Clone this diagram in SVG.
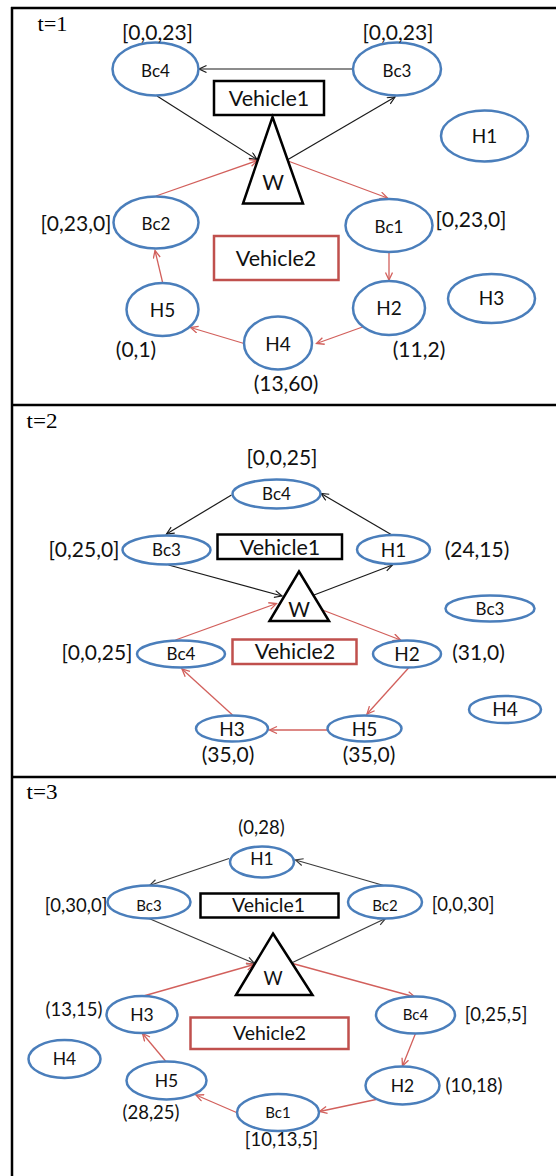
<svg xmlns="http://www.w3.org/2000/svg" width="556" height="1176" viewBox="0 0 556 1176">
<style>
.frame{stroke:#000;stroke-width:2.5;fill:none}
.node{fill:#fff;stroke:#4a7ebb;stroke-width:2.5}
.v1{fill:#fff;stroke:#000;stroke-width:2.5}
.v2{fill:#fff;stroke:#c0504d;stroke-width:2.5}
.tri{fill:#fff;stroke:#000;stroke-width:2.5;stroke-linejoin:miter}
.t{font-family:Lato,"Liberation Sans",sans-serif;fill:#111;text-anchor:middle}
.tt{font-family:"Liberation Serif",serif;fill:#000;font-size:21px}
.bk{stroke:#1a1a1a;stroke-width:1.2;fill:none;marker-end:url(#ab)}
.gy{stroke:#3a3a3a;stroke-width:1.2;fill:none;marker-end:url(#ag)}
.rd{stroke:#d2605c;stroke-width:1.3;fill:none;marker-end:url(#ar)}
.s1{font-size:21px}.h1{font-size:19px}.b1{font-size:17px}.vv1{font-size:21.5px}
.s3{font-size:18.5px}.h3{font-size:17.5px}.b3{font-size:15px}.vv3{font-size:19.5px}
</style>
<defs>
<marker id="ab" markerUnits="userSpaceOnUse" markerWidth="12" markerHeight="12" refX="8" refY="4" orient="auto"><path d="M0.5,0.5 L8,4 L0.5,7.5" fill="none" stroke="#1a1a1a" stroke-width="1.2"/></marker>
<marker id="ag" markerUnits="userSpaceOnUse" markerWidth="12" markerHeight="12" refX="8" refY="4" orient="auto"><path d="M0.5,0.5 L8,4 L0.5,7.5" fill="none" stroke="#3a3a3a" stroke-width="1.2"/></marker>
<marker id="ar" markerUnits="userSpaceOnUse" markerWidth="12" markerHeight="12" refX="8" refY="4" orient="auto"><path d="M0.5,0.5 L8,4 L0.5,7.5" fill="none" stroke="#d2605c" stroke-width="1.3"/></marker>
</defs>
<rect width="556" height="1176" fill="#fff"/>
<g id="frame">
<line class="frame" x1="12" y1="7" x2="12" y2="1176"/>
<line class="frame" x1="11" y1="8" x2="556" y2="8"/>
<line class="frame" x1="11" y1="405" x2="556" y2="405"/>
<line class="frame" x1="11" y1="777" x2="556" y2="777"/>
</g>
<g id="titles">
<text class="tt" x="37.5" y="31" textLength="30" lengthAdjust="spacingAndGlyphs">t=1</text>
<text class="tt" x="26.5" y="428" textLength="31" lengthAdjust="spacingAndGlyphs">t=2</text>
<text class="tt" x="26.5" y="799" textLength="31" lengthAdjust="spacingAndGlyphs">t=3</text>
</g>
<g id="connectors">
<line class="bk" x1="352" y1="69" x2="199" y2="69"/>
<line class="bk" x1="157" y1="96" x2="257" y2="159.5"/>
<line class="bk" x1="288" y1="159.5" x2="395" y2="97"/>
<line class="rd" x1="156" y1="196" x2="257.5" y2="160.5"/>
<line class="rd" x1="288" y1="161" x2="387.5" y2="198"/>
<line class="rd" x1="389" y1="252" x2="389" y2="280"/>
<line class="rd" x1="362.5" y1="327" x2="316.5" y2="343.5"/>
<line class="rd" x1="244" y1="343.5" x2="190.5" y2="327.5"/>
<line class="rd" x1="162.5" y1="282" x2="155" y2="250.5"/>
<line class="bk" x1="231.5" y1="495" x2="166.5" y2="534"/>
<line class="bk" x1="392" y1="535" x2="321" y2="493.5"/>
<line class="bk" x1="168.5" y1="565" x2="282" y2="596"/>
<line class="bk" x1="314" y1="595" x2="392.5" y2="565"/>
<line class="rd" x1="175.5" y1="640" x2="276.5" y2="603.5"/>
<line class="rd" x1="322.5" y1="610" x2="400.5" y2="640"/>
<line class="rd" x1="408.5" y1="668" x2="367" y2="714"/>
<line class="rd" x1="327" y1="730" x2="269.5" y2="730"/>
<line class="rd" x1="232.5" y1="715" x2="182" y2="669"/>
<line class="gy" x1="229" y1="858.5" x2="149.5" y2="885.5"/>
<line class="gy" x1="385.5" y1="886" x2="295.5" y2="860"/>
<line class="gy" x1="149" y1="918.5" x2="254.5" y2="963.5"/>
<line class="gy" x1="292.5" y1="962.5" x2="385.5" y2="918.5"/>
<line class="rd" x1="143.5" y1="996" x2="254" y2="964.5"/>
<line class="rd" x1="292.5" y1="963.5" x2="415" y2="997"/>
<line class="rd" x1="415.5" y1="1033.5" x2="402.5" y2="1066"/>
<line class="rd" x1="376" y1="1099.5" x2="319.5" y2="1111.5"/>
<line class="rd" x1="236.5" y1="1112.5" x2="196" y2="1095"/>
<line class="rd" x1="165.5" y1="1061" x2="142.5" y2="1033.5"/>
</g>
<g id="p1-Bc4"><ellipse class="node" cx="155.5" cy="69" rx="43" ry="26.5"/><text class="t b1" x="155.5" y="76.5">Bc4</text></g>
<g id="p1-Bc3"><ellipse class="node" cx="397" cy="69" rx="44" ry="26.5"/><text class="t b1" x="397" y="76.5">Bc3</text></g>
<g id="p1-H1"><ellipse class="node" cx="484.5" cy="136" rx="43.5" ry="25.5"/><text class="t h1" x="484.5" y="143">H1</text></g>
<g id="p1-Vehicle1"><rect class="v1" x="214" y="81" width="110" height="34"/><text class="t vv1" x="269" y="105.5">Vehicle1</text></g>
<g id="p1-W"><polygon class="tri" points="272.5,117 303,203.5 243,203.5"/><text class="t s1" x="273" y="190">W</text></g>
<g id="p1-Bc2"><ellipse class="node" cx="156" cy="222.5" rx="42.5" ry="26"/><text class="t b1" x="156" y="230">Bc2</text></g>
<g id="p1-Bc1"><ellipse class="node" cx="389" cy="225.5" rx="43.5" ry="26.5"/><text class="t b1" x="389" y="233">Bc1</text></g>
<g id="p1-Vehicle2"><rect class="v2" x="214" y="236" width="124.5" height="44"/><text class="t vv1" x="276" y="266">Vehicle2</text></g>
<g id="p1-H5"><ellipse class="node" cx="162.5" cy="309.5" rx="36" ry="26.5"/><text class="t h1" x="162.5" y="316.5">H5</text></g>
<g id="p1-H2"><ellipse class="node" cx="389" cy="308" rx="36" ry="27"/><text class="t h1" x="389" y="315">H2</text></g>
<g id="p1-H3"><ellipse class="node" cx="491.5" cy="298.5" rx="43.5" ry="24.5"/><text class="t h1" x="491.5" y="305">H3</text></g>
<g id="p1-H4"><ellipse class="node" cx="278" cy="343" rx="34" ry="26.5"/><text class="t h1" x="278" y="351">H4</text></g>
<g id="p1-labels">
<text class="t s1" x="157.5" y="39.5">[0,0,23]</text>
<text class="t s1" x="398" y="39.5">[0,0,23]</text>
<text class="t s1" x="76" y="230.5">[0,23,0]</text>
<text class="t s1" x="471" y="227">[0,23,0]</text>
<text class="t s1" x="136" y="356.5">(0,1)</text>
<text class="t s1" x="419" y="357">(11,2)</text>
<text class="t s1" x="286" y="391">(13,60)</text>
</g>
<g id="p2-Bc4"><ellipse class="node" cx="276.5" cy="494" rx="44" ry="14.5"/><text class="t b1" x="276.5" y="500">Bc4</text></g>
<g id="p2-Bc3"><ellipse class="node" cx="166.5" cy="550" rx="44" ry="14.5"/><text class="t b1" x="166.5" y="556">Bc3</text></g>
<g id="p2-Vehicle1"><rect class="v1" x="217.5" y="534.5" width="124.5" height="24.5"/><text class="t vv1" x="280" y="554.5">Vehicle1</text></g>
<g id="p2-H1"><ellipse class="node" cx="393.5" cy="549.5" rx="36.5" ry="14.5"/><text class="t h1" x="393.5" y="557">H1</text></g>
<g id="p2-W"><polygon class="tri" points="299,571.5 329,621 269.5,621"/><text class="t s1" x="299" y="616.5">W</text></g>
<g id="p2-Bc3b"><ellipse class="node" cx="490" cy="608.5" rx="44.5" ry="13"/><text class="t b1" x="490" y="614.5">Bc3</text></g>
<g id="p2-Bc4b"><ellipse class="node" cx="181" cy="654" rx="44" ry="13.5"/><text class="t b1" x="181" y="660">Bc4</text></g>
<g id="p2-Vehicle2"><rect class="v2" x="232.5" y="639.5" width="124" height="24.5"/><text class="t vv1" x="295" y="659">Vehicle2</text></g>
<g id="p2-H2"><ellipse class="node" cx="407" cy="654" rx="34" ry="13.5"/><text class="t h1" x="407" y="660.5">H2</text></g>
<g id="p2-H4"><ellipse class="node" cx="505" cy="709.5" rx="36" ry="13.5"/><text class="t h1" x="505" y="716">H4</text></g>
<g id="p2-H3"><ellipse class="node" cx="232" cy="728.5" rx="36" ry="13"/><text class="t h1" x="232" y="736">H3</text></g>
<g id="p2-H5"><ellipse class="node" cx="364.5" cy="728.5" rx="37" ry="13"/><text class="t h1" x="364.5" y="736">H5</text></g>
<g id="p2-labels">
<text class="t s1" x="282" y="465">[0,0,25]</text>
<text class="t s1" x="84" y="557">[0,25,0]</text>
<text class="t s1" x="477" y="557">(24,15)</text>
<text class="t s1" x="97" y="660">[0,0,25]</text>
<text class="t s1" x="478.5" y="660">(31,0)</text>
<text class="t s1" x="228" y="761.5">(35,0)</text>
<text class="t s1" x="369" y="761.5">(35,0)</text>
</g>
<g id="p3-H1"><ellipse class="node" cx="262" cy="862" rx="32" ry="15.5"/><text class="t h3" x="262" y="865">H1</text></g>
<g id="p3-Bc3"><ellipse class="node" cx="149" cy="902" rx="41.5" ry="16.5"/><text class="t b3" x="149" y="911">Bc3</text></g>
<g id="p3-Vehicle1"><rect class="v1" x="200.5" y="893.5" width="138" height="24"/><text class="t vv3" x="268.5" y="912">Vehicle1</text></g>
<g id="p3-Bc2"><ellipse class="node" cx="385" cy="902" rx="37" ry="16.5"/><text class="t b3" x="385" y="911">Bc2</text></g>
<g id="p3-W"><polygon class="tri" points="273,933.5 312.5,995 236,995"/><text class="t s3" x="273" y="985">W</text></g>
<g id="p3-H3"><ellipse class="node" cx="142" cy="1014.5" rx="35.5" ry="18.5"/><text class="t h3" x="142" y="1020.5">H3</text></g>
<g id="p3-Bc4"><ellipse class="node" cx="415.5" cy="1015" rx="39.5" ry="18.5"/><text class="t b3" x="415.5" y="1020">Bc4</text></g>
<g id="p3-Vehicle2"><rect class="v2" x="190.5" y="1017.5" width="158" height="31.5"/><text class="t vv3" x="269.5" y="1039.5">Vehicle2</text></g>
<g id="p3-H4"><ellipse class="node" cx="64.5" cy="1059" rx="36" ry="19"/><text class="t h3" x="64.5" y="1065">H4</text></g>
<g id="p3-H5"><ellipse class="node" cx="166.5" cy="1080.5" rx="40" ry="19"/><text class="t h3" x="166.5" y="1086.5">H5</text></g>
<g id="p3-H2"><ellipse class="node" cx="402.5" cy="1085.5" rx="37" ry="19"/><text class="t h3" x="402.5" y="1092">H2</text></g>
<g id="p3-Bc1"><ellipse class="node" cx="278" cy="1112.5" rx="41" ry="18.5"/><text class="t b3" x="278" y="1118">Bc1</text></g>
<g id="p3-labels">
<text class="t s3" x="261.5" y="833.5">(0,28)</text>
<text class="t s3" x="76" y="911.5">[0,30,0]</text>
<text class="t s3" x="463" y="910.5">[0,0,30]</text>
<text class="t s3" x="74" y="1015.5">(13,15)</text>
<text class="t s3" x="496" y="1020.5">[0,25,5]</text>
<text class="t s3" x="474" y="1091.5">(10,18)</text>
<text class="t s3" x="151" y="1118.5">(28,25)</text>
<text class="t s3" x="281.5" y="1145.5">[10,13,5]</text>
</g>
</svg>
